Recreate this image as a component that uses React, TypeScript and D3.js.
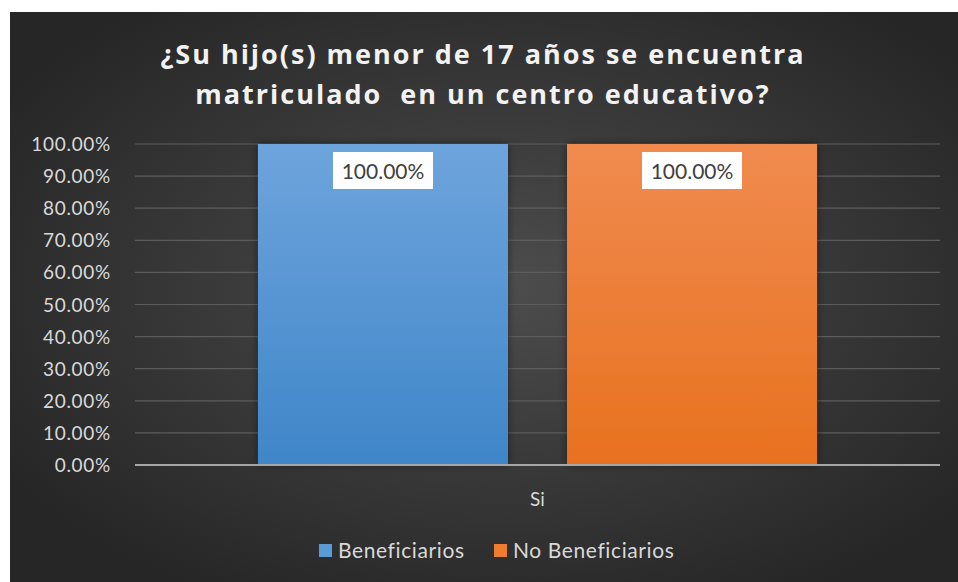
import React from "react";
import * as d3 from "d3";

const categories = ["Si"];
const seriesNames = ["Beneficiarios", "No Beneficiarios"];
const seriesValues = [[1.0], [1.0]];
const yTicks = [0, 0.1, 0.2, 0.3, 0.4, 0.5, 0.6, 0.7, 0.8, 0.9, 1.0];
const titleLines = ["¿Su hijo(s) menor de 17 años se encuentra", "matriculado  en un centro educativo?"];

const W = 958, H = 582;
const plot = { left: 135, right: 940, top: 144, bottom: 465 };

export default function App() {
  const y = d3.scaleLinear().domain([0, 1]).range([plot.bottom, plot.top]);
  const x0 = d3.scaleBand().domain(categories).range([plot.left, plot.right]).paddingInner(0).paddingOuter(0.22);
  const x1 = d3.scaleBand().domain(seriesNames).range([0, x0.bandwidth()]).paddingInner(0.191);
  const fmt = d3.format(".2%");
  const gradIds = ["gBlue", "gOrange"];
  const legendItems = [
    { name: seriesNames[0], x: 319, color: "#5b9bd5" },
    { name: seriesNames[1], x: 494, color: "#ed7d31" },
  ];
  return (
    <svg width={W} height={H} style={{ position: "absolute", left: 0, top: 0 }} fontFamily="Lato, 'Open Sans', sans-serif">
      <defs>
        <radialGradient id="bg" cx="52%" cy="48%" r="62%">
          <stop offset="0%" stopColor="#4d4d4d" />
          <stop offset="100%" stopColor="#262626" />
        </radialGradient>
        <linearGradient id="gBlue" x1="0" y1="0" x2="0" y2="1">
          <stop offset="0%" stopColor="#6ea4dc" />
          <stop offset="100%" stopColor="#3f86c9" />
        </linearGradient>
        <linearGradient id="gOrange" x1="0" y1="0" x2="0" y2="1">
          <stop offset="0%" stopColor="#f08b4f" />
          <stop offset="100%" stopColor="#e8711f" />
        </linearGradient>
        <filter id="shadow" x="-10%" y="-10%" width="120%" height="120%">
          <feDropShadow dx="0" dy="0" stdDeviation="4" floodColor="#000" floodOpacity="0.45" />
        </filter>
      </defs>
      <rect x={0} y={0} width={W} height={H} fill="#ffffff" />
      <rect x={10} y={12} width={W - 10} height={H - 12} fill="url(#bg)" />
      {titleLines.map((t, i) => (
        <text key={i} x={483} y={64 + i * 40} textAnchor="middle" fill="#f2f2f2" fontSize={27} fontWeight="bold" letterSpacing={2} fontFamily="'Open Sans', Lato, sans-serif" style={{ whiteSpace: "pre" }}>
          {t}
        </text>
      ))}
      {yTicks.map((t) => (
        <g key={t}>
          {t > 0 && <line x1={plot.left} x2={plot.right} y1={y(t)} y2={y(t)} stroke="#5c5c5c" strokeWidth={1.2} />}
          <text x={111} y={y(t) + 7} textAnchor="end" fill="#d9d9d9" fontSize={19} letterSpacing={0.7}>
            {fmt(t)}
          </text>
        </g>
      ))}
      {categories.map((c, ci) => (
        <g key={c} transform={`translate(${x0(c)},0)`}>
          {seriesNames.map((s, si) => {
            const v = seriesValues[si][ci];
            const bx = x1(s)!;
            const bw = x1.bandwidth();
            const cx = bx + bw / 2;
            return (
              <g key={s}>
                <rect x={bx} y={y(v)} width={bw} height={y(0) - y(v)} fill={`url(#${gradIds[si]})`} filter="url(#shadow)" />
                <rect x={cx - 50} y={y(v) + 8} width={100} height={37} fill="#ffffff" />
                <text x={cx} y={y(v) + 35} textAnchor="middle" fill="#404040" fontSize={21}>
                  {fmt(v)}
                </text>
              </g>
            );
          })}
          <text x={x0.bandwidth() / 2} y={506} textAnchor="middle" fill="#d9d9d9" fontSize={19}>
            {c}
          </text>
        </g>
      ))}
      <line x1={plot.left} x2={plot.right} y1={y(0)} y2={y(0)} stroke="#a6a6a6" strokeWidth={2} />
      {legendItems.map((l) => (
        <g key={l.name}>
          <rect x={l.x} y={544} width={13} height={13} fill={l.color} />
          <text x={l.x + 19} y={558} fill="#d9d9d9" fontSize={21} letterSpacing={0.6}>
            {l.name}
          </text>
        </g>
      ))}
    </svg>
  );
}
